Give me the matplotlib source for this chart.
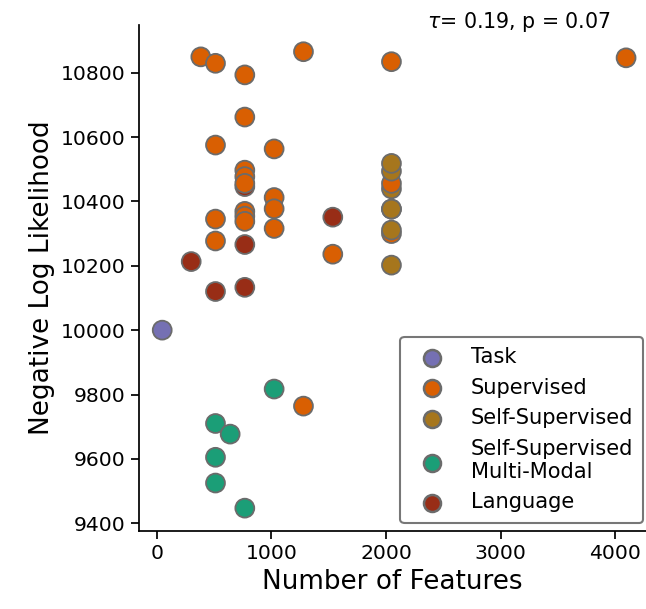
import matplotlib
matplotlib.use("Agg")
import matplotlib.pyplot as plt

# model type colours
types = ["Task", "Supervised", "Self-Supervised", "Self-Supervised\nMulti-Modal", "Language"]
colors = {"Task": "#7570b3",
          "Supervised": "#d95f02",
          "Self-Supervised": "#a6761d",
          "Self-Supervised\nMulti-Modal": "#1b9e77",
          "Language": "#982d16"}

# points, in drawing order (later ones sit on top)
features = [47,
            300, 768, 768, 1536, 512, 768,
            384, 512, 768, 1280, 2048, 4096, 768, 512, 1024,
            768, 768, 768, 1024, 1024, 1024, 768, 768, 768,
            512, 512, 1536, 1280,
            2048, 2048, 2048,
            2048, 2048, 2048, 2048, 2048, 2048,
            1024, 512, 640, 512, 512, 768]
nll = [10000,
       10213, 10446, 10266, 10351, 10120, 10133,
       10849, 10829, 10793, 10865, 10834, 10846, 10662, 10575, 10563,
       10497, 10477, 10456, 10412, 10377, 10316, 10369, 10354, 10338,
       10345, 10277, 10236, 9764,
       10439, 10376, 10202,
       10456, 10300, 10311, 10494, 10518, 10376,
       9817, 9710, 9677, 9605, 9525, 9447]
model_type = (["Task"]
              + ["Language"] * 6
              + ["Supervised"] * 22
              + ["Self-Supervised"] * 3
              + ["Supervised", "Supervised", "Self-Supervised", "Self-Supervised", "Self-Supervised", "Self-Supervised"]
              + ["Self-Supervised\nMulti-Modal"] * 6)

tau, pval = 0.19, 0.07

fig = plt.figure(figsize=(6.46, 6.09), dpi=100)
ax = fig.add_axes([138.5/646, 1-531/609, (646-138.5)/646, (531-25)/609])

ax.scatter(features, nll, s=185, c=[colors[t] for t in model_type],
           edgecolors="#6b6b6b", linewidths=1.3, zorder=3)

# legend proxies
for t in types:
    ax.scatter([], [], s=150, color=colors[t], edgecolors="#6b6b6b", linewidths=1.8, label=t)
leg = ax.legend(loc="lower right", bbox_to_anchor=(0.995, 0.016), fontsize=15.1,
                frameon=True, framealpha=1, edgecolor="#777777", borderaxespad=0,
                handletextpad=0.85, labelspacing=0.5, borderpad=0.5)
leg.get_frame().set_linewidth(1.5)

ax.set_xlim(-160, 4270)
ax.set_ylim(9376, 10948)
ax.set_xticks([0, 1000, 2000, 3000, 4000])
ax.set_yticks([9400, 9600, 9800, 10000, 10200, 10400, 10600, 10800])
ax.tick_params(labelsize=14.7, length=6, width=1.25)
for side in ["top", "right"]:
    ax.spines[side].set_visible(False)
for side in ["left", "bottom"]:
    ax.spines[side].set_linewidth(1.25)

ax.set_xlabel("Number of Features", fontsize=18.9)
ax.set_ylabel("Negative Log Likelihood", fontsize=18.9)
ax.text(0.75, 1.006, rf"$\tau$= {tau}, p = {pval}", transform=ax.transAxes,
        ha="center", va="center", fontsize=14.8)

fig.savefig("out.png", dpi=100)
